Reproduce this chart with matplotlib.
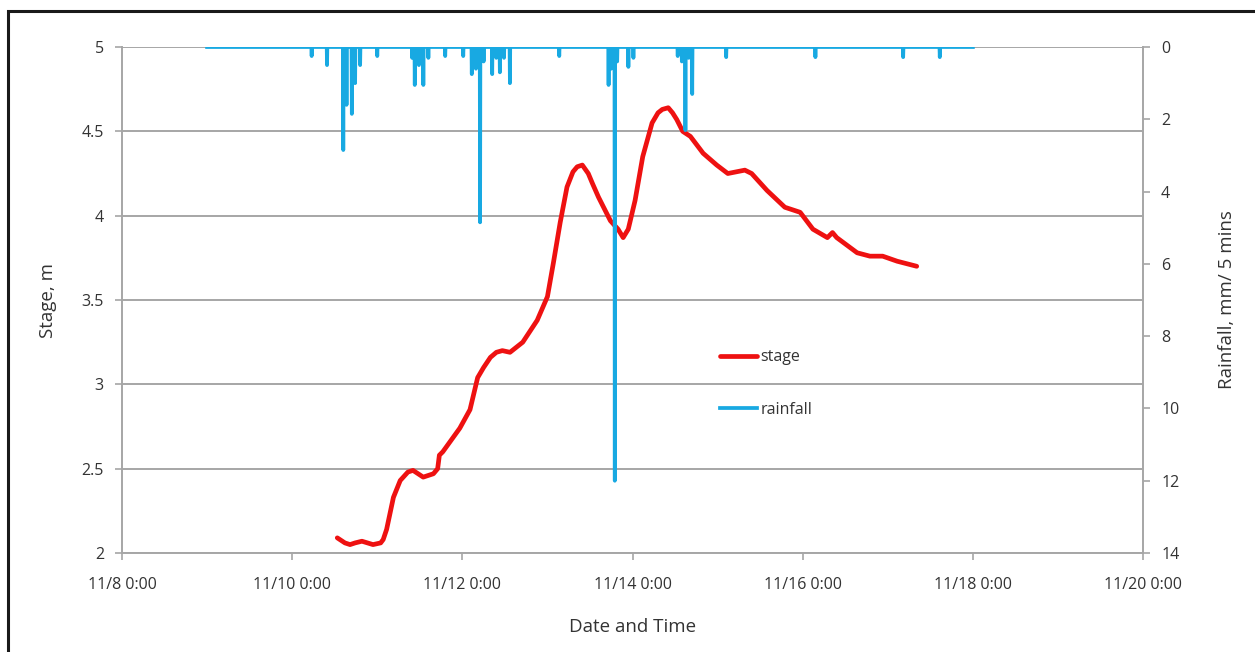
import numpy as np
import matplotlib
matplotlib.use('Agg')
import matplotlib.pyplot as plt
from matplotlib.patches import Rectangle

# Stage record (day of November, fractional) and stage in m
stage_day = [10.53, 10.62, 10.68, 10.74, 10.82, 10.95, 11.04, 11.07, 11.11, 11.19,
             11.27, 11.36, 11.42, 11.54, 11.66, 11.71, 11.73, 11.77, 11.97, 12.09,
             12.18, 12.25, 12.33, 12.40, 12.47, 12.56, 12.71, 12.88, 13.00, 13.07,
             13.15, 13.23, 13.30, 13.35, 13.41, 13.48, 13.53, 13.60, 13.74, 13.83,
             13.89, 13.95, 14.03, 14.12, 14.23, 14.30, 14.35, 14.42, 14.47, 14.52,
             14.59, 14.68, 14.83, 14.99, 15.12, 15.22, 15.32, 15.40, 15.58, 15.79,
             15.97, 16.12, 16.29, 16.35, 16.40, 16.64, 16.79, 16.94, 17.11, 17.34]
stage_m = [2.09, 2.06, 2.05, 2.06, 2.07, 2.05, 2.06, 2.08, 2.14, 2.33,
           2.43, 2.48, 2.49, 2.45, 2.47, 2.50, 2.58, 2.60, 2.74, 2.85,
           3.04, 3.10, 3.16, 3.19, 3.20, 3.19, 3.25, 3.38, 3.52, 3.72,
           3.96, 4.17, 4.26, 4.29, 4.30, 4.25, 4.19, 4.11, 3.97, 3.92,
           3.87, 3.92, 4.09, 4.35, 4.55, 4.61, 4.63, 4.64, 4.61, 4.57,
           4.50, 4.47, 4.37, 4.30, 4.25, 4.26, 4.27, 4.25, 4.15, 4.05,
           4.02, 3.92, 3.87, 3.90, 3.87, 3.78, 3.76, 3.76, 3.73, 3.70]

# Rainfall gauge: 5-minute record from 11/9 0:00 to 11/18 0:00, non-zero readings
rain_start, rain_end = 9.0, 18.0
rain_day = [10.23, 10.41, 10.60, 10.64, 10.70, 10.74, 10.80, 11.00, 11.41, 11.44,
            11.49, 11.54, 11.60, 11.80, 12.01, 12.11, 12.16, 12.21, 12.25, 12.35,
            12.40, 12.44, 12.49, 12.56, 13.14, 13.72, 13.75, 13.79, 13.82, 13.95,
            14.01, 14.53, 14.58, 14.62, 14.66, 14.70, 15.10, 16.15, 17.18, 17.61]
rain_mm = [0.25, 0.5, 2.85, 1.6, 1.85, 1.0, 0.5, 0.25, 0.3, 1.05,
           0.5, 1.05, 0.3, 0.25, 0.25, 0.75, 0.6, 4.85, 0.4, 0.75,
           0.3, 0.7, 0.3, 1.0, 0.25, 1.05, 0.6, 12.0, 0.4, 0.55,
           0.3, 0.25, 0.4, 2.3, 0.3, 1.3, 0.28, 0.28, 0.28, 0.28]

x_ticks = [8, 10, 12, 14, 16, 18, 20]
x_tick_labels = ['11/8 0:00', '11/10 0:00', '11/12 0:00', '11/14 0:00',
                 '11/16 0:00', '11/18 0:00', '11/20 0:00']

RED = '#ee1111'
BLUE = '#18a9e2'
GRID = '#a6a6a6'
TXT = '#333333'

plt.rcParams['font.family'] = ['Open Sans', 'DejaVu Sans']

# build the 5-minute rainfall series (zero where nothing fell)
step = 5.0 / (24 * 60)
n = int(round((rain_end - rain_start) / step)) + 1
rain_t = rain_start + np.arange(n) * step
rain_v = np.zeros(n)
for d, v in zip(rain_day, rain_mm):
    rain_v[int(round((d - rain_start) / step))] = v

fig = plt.figure(figsize=(12.55, 6.52), dpi=100)
ax = fig.add_axes([0.0972, 0.1518, 0.8136, 0.7761])
ax2 = ax.twinx()

# outer frame of the original picture
fig.patches.append(Rectangle((0.0065, -0.05), 1.2, 0.05 + 0.9835, transform=fig.transFigure,
                             fill=False, edgecolor='#1a1a1a', linewidth=2.2))

ln1, = ax.plot(stage_day, stage_m, color=RED, linewidth=3.4, label='stage',
               solid_joinstyle='round', solid_capstyle='round', zorder=3)
ln2, = ax2.plot(rain_t, rain_v, color=BLUE, linewidth=2.7, label='rainfall')

ax.set_xlim(8, 20)
ax.set_ylim(2, 5)
ax.set_yticks(np.arange(2, 5.01, 0.5))
ax.set_yticklabels(['2', '2.5', '3', '3.5', '4', '4.5', '5'])
ax.set_xticks(x_ticks)
ax.set_xticklabels(x_tick_labels)
ax2.set_ylim(14, 0)
ax2.set_yticks(range(0, 15, 2))

ax.grid(axis='y', color=GRID, linewidth=1.4)
ax.set_axisbelow(True)

for a in (ax, ax2):
    for s in a.spines.values():
        s.set_visible(False)
    a.tick_params(colors=GRID, labelcolor=TXT, labelsize=11.5, length=5, width=1.2)
ax.spines['left'].set_visible(True)
ax.spines['bottom'].set_visible(True)
ax2.spines['right'].set_visible(True)
for s in (ax.spines['left'], ax.spines['bottom'], ax2.spines['right']):
    s.set_color(GRID)
    s.set_linewidth(1.4)
ax.tick_params(axis='x', pad=12)
ax.tick_params(axis='y', pad=8)
ax2.tick_params(axis='y', pad=8)

ax.set_xlabel('Date and Time', fontsize=13.5, color=TXT, labelpad=18)
ax.set_ylabel('Stage, m', fontsize=13.5, color=TXT, labelpad=18)
ax2.set_ylabel('Rainfall, mm/ 5 mins', fontsize=13.5, color=TXT, labelpad=28)

leg = ax2.legend([ln1, ln2], ['stage', 'rainfall'], loc='center left',
                 bbox_to_anchor=(0.572, 0.335), frameon=False, fontsize=11.5,
                 handlelength=2.3, handletextpad=0.2, labelspacing=2.3)
for t in leg.get_texts():
    t.set_color(TXT)

fig.savefig('out.png', dpi=100, facecolor='white')
